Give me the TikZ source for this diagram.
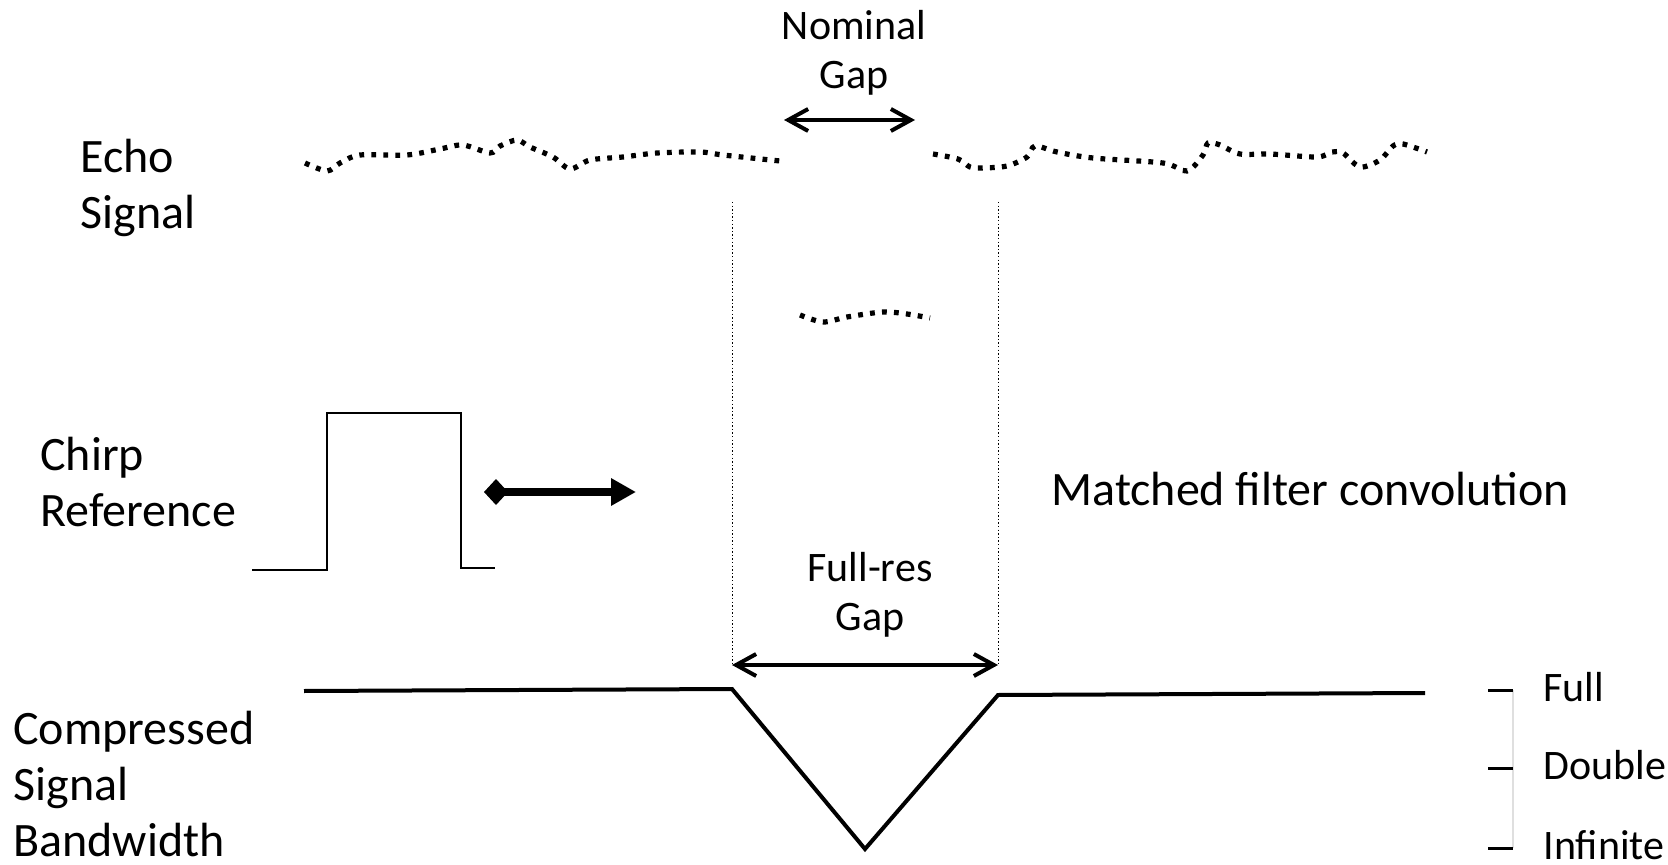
\documentclass[tikz,border=0pt]{standalone}
\usepackage{fontspec}
\setmainfont{Carlito}
\usetikzlibrary{arrows.meta,positioning}

\begin{document}
\begin{tikzpicture}[x=0.5pt,y=-0.5pt,
    label/.style={inner sep=0pt,align=left,font=\fontsize{24}{28}\selectfont},
    small/.style={inner sep=0pt,align=center,font=\fontsize{21}{24.5}\selectfont},
    echo/.style={line width=2.6pt,dash pattern=on 2.4pt off 3.6pt},
    guide/.style={line width=0.5pt,dash pattern=on 0.7pt off 1.1pt},
    gap/.style={line width=2pt,{Straight Barb[length=10pt,width=11pt]}-{Straight Barb[length=10pt,width=11pt]}}]
    \useasboundingbox (0,0) rectangle (1668,865);

    % labels on the left
    \node[label,anchor=west] (echo)  at (80,188)  {Echo\\Signal};
    \node[label,anchor=west] (chirp) at (40,482)  {Chirp\\Reference};
    \node[label,anchor=west] (comp)  at (13,784)  {Compressed\\Signal\\Bandwidth};
    \node[label,anchor=west] (mf)    at (1051,489) {Matched filter convolution};

    % echo signal
    \draw[echo] plot[smooth] coordinates {(305,163) (327,171) (340,163) (360,155) (407,155)
        (440,149) (463,145) (490,153) (500,146) (517,140) (530,147) (553,157) (570,169)
        (590,160) (623,157) (657,153) (700,152) (723,155) (780,161)};
    \draw[echo] plot[smooth] coordinates {(933,154) (958,159) (970,167) (982,168) (1007,166)
        (1027,157) (1035,146) (1057,152) (1093,158) (1163,163) (1187,171) (1203,155)
        (1208,143) (1220,145) (1240,154) (1270,154) (1317,157) (1332,152) (1343,153)
        (1360,167) (1380,160) (1393,146) (1403,144) (1427,152)};
    \draw[echo] plot[smooth] coordinates {(800,315) (823,322) (847,317) (883,312) (907,314) (930,318)};

    % nominal gap
    \coordinate (ngL) at (784,120);
    \coordinate (ngR) at (915,120);
    \node[small] (nominal) at (854,53) {Nominal\\Gap};
    \draw[gap] (ngL) -- (ngR);

    % full-res gap
    \coordinate (topL) at (732,202);
    \coordinate (topR) at (998,202);
    \coordinate (fgL) at (732,665);
    \coordinate (fgR) at (998,665);
    \draw[guide] (topL) -- (fgL);
    \draw[guide] (topR) -- (fgR);
    \node[small] (fullres) at (870,595) {Full-res\\Gap};
    \draw[gap] (fgL) -- (fgR);

    % chirp reference pulse
    \draw[line width=1pt] (252,570) -- (327,570) -- (327,413) -- (461,413) -- (461,568) -- (495,568);
    \coordinate (sl) at (484,492);
    \coordinate (sr) at (636,492);
    \draw[line width=4pt,{Diamond[length=12pt,width=13pt]}-{Triangle[length=12.5pt,width=13pt]}] (sl) -- (sr);

    % compressed signal
    \draw[line width=2pt,line join=miter] (304,691) -- (732,689) -- (865,849) -- (998,695) -- (1425,693);

    % bandwidth scale
    \draw[gray!25,line width=0.7pt] (1513,690) -- (1513,848);
    \foreach \y/\t in {690/Full,768/Double,848/Infinite} {
        \draw[line width=1.5pt] (1488,\y) -- (1513,\y);
        \node[small,anchor=west] (bw\t) at (1543,\y-3) {\t};
    }
\end{tikzpicture}
\end{document}
